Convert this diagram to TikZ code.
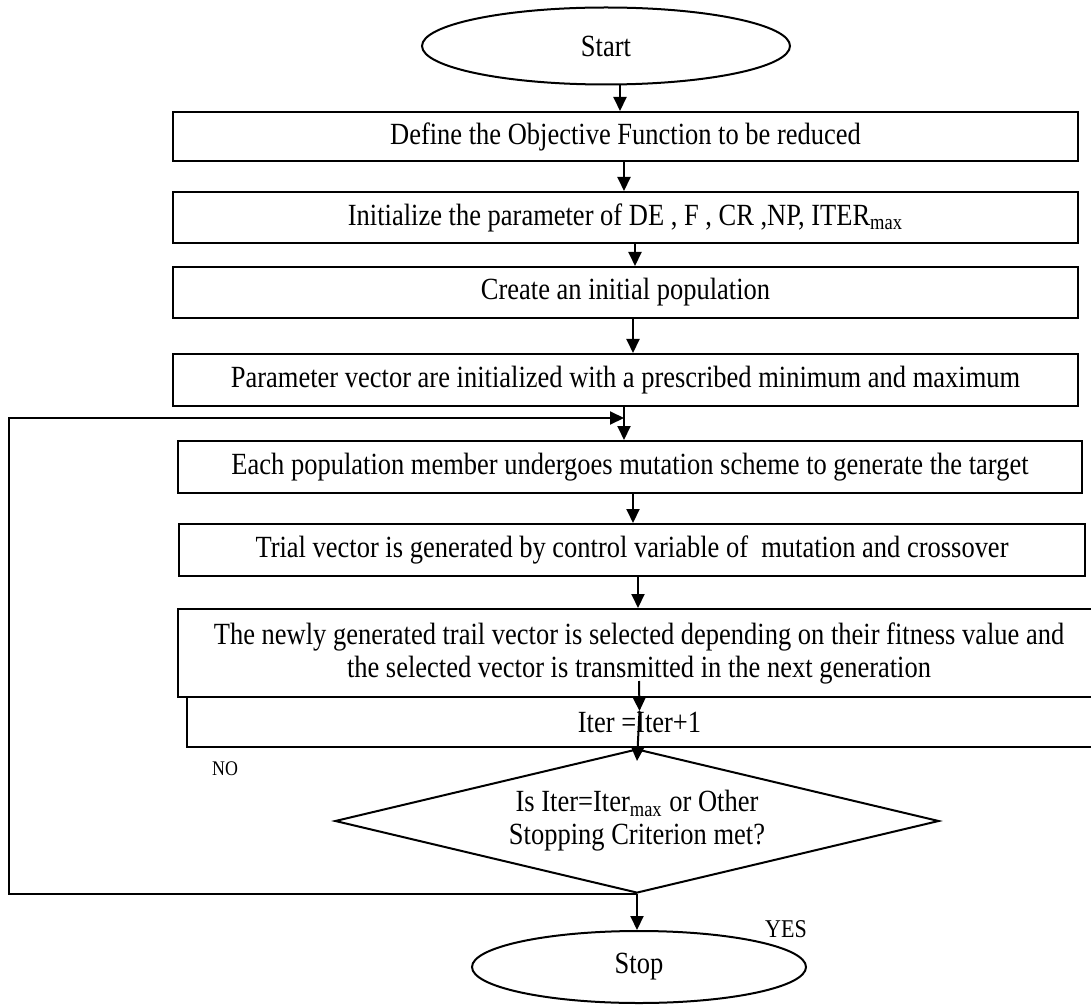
\documentclass[tikz,border=0pt]{standalone}
\usepackage{fontspec}
\setmainfont[FakeStretch=0.86]{Liberation Serif}
\usetikzlibrary{shapes.geometric,arrows.meta}

\begin{document}
\begin{tikzpicture}[>={Triangle[length=7pt,width=6.5pt]},line width=1pt,x=0.5pt,y=-0.5pt,
        font=\fontsize{15.4}{17.5}\selectfont,
        stepbox/.style={draw,rectangle,inner sep=0pt,align=center},
        term/.style={draw,ellipse,inner sep=0pt}]
        \useasboundingbox (0,0) rectangle (1091,1005);
        \node[term,minimum width=184pt,minimum height=38.5pt] (start) at (606,46) {Start};
        \node[stepbox,minimum width=452.5pt,minimum height=24.5pt] (objfn) at (625.5,136.5) {Define the Objective Function to be reduced};
        \node[stepbox,minimum width=452.5pt,minimum height=25.5pt] (params) at (625.5,217.5) {Initialize the parameter of DE , F , CR ,NP, ITER\textsubscript{max}};
        \node[stepbox,minimum width=452.5pt,minimum height=25.5pt] (initpop) at (625.5,292.5) {Create an initial population};
        \node[stepbox,minimum width=452.5pt,minimum height=26pt] (bounds) at (625.5,380) {Parameter vector are initialized with a prescribed minimum and maximum};
        \node[stepbox,minimum width=452pt,minimum height=26pt] (mutate) at (630,467) {Each population member undergoes mutation scheme to generate the target};
        \node[stepbox,minimum width=453pt,minimum height=26pt] (trial) at (632,550) {Trial vector is generated by control variable of ~mutation and crossover};
        \node[stepbox,minimum width=461pt,minimum height=44pt,font=\fontsize{15.4}{16.5}\selectfont] (select) at (639,653) {The newly generated trail vector is selected depending on their fitness value and\\the selected vector is transmitted in the next generation};
        \node[stepbox,minimum width=452.5pt,minimum height=25pt] (iterinc) at (639.5,722) {Iter =Iter+1};
        \node[draw,diamond,aspect=4.2,inner sep=0pt,minimum width=302pt,minimum height=72pt,align=center,font=\fontsize{15.4}{16.5}\selectfont] (check) at (637,821) {Is Iter=Iter\textsubscript{max} or Other\\Stopping Criterion met?};
        \node[term,minimum width=167pt,minimum height=36pt] (stop) at (639,967) {Stop};
        \node[font=\fontsize{10.4}{11}\selectfont] (nolbl) at (225,769) {NO};
        \node[font=\fontsize{12.8}{13}\selectfont] (yeslbl) at (786,929) {YES};
        \coordinate (back) at (9,418);
        \coordinate (merge) at (624,418);
        \draw[->] (start.south -| 620,0) -- (objfn.north -| 620,0);
        \draw[->] (objfn.south -| 624,0) -- (params.north -| 624,0);
        \draw[->] (params.south -| 635,0) -- (initpop.north -| 635,0);
        \draw[->] (initpop.south -| 633,0) -- (bounds.north -| 633,0);
        \draw[->] (bounds.south -| merge) -- (mutate.north -| merge);
        \draw[->] (mutate.south -| 633,0) -- (trial.north -| 633,0);
        \draw[->] (trial.south -| 638,0) -- (select.north -| 638,0);
        \draw[->] ([yshift=8.5pt]select.south) -- ([yshift=-7.5pt]iterinc.north);
        \draw[->] ([yshift=-7.5pt]iterinc.north) -- ([yshift=-6.5pt]check.north);
        \draw[->] (check.south) -- (check.south |- stop.north);
        \draw[->] (check.south) -| (back) -- (merge);
    \end{tikzpicture}
\end{document}
